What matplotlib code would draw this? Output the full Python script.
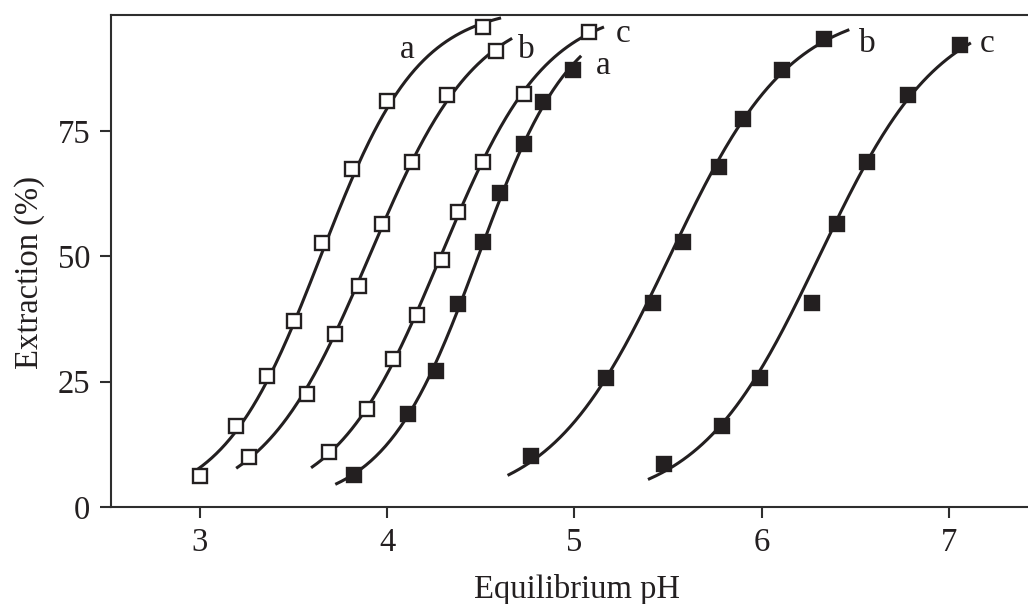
import numpy as np, matplotlib
matplotlib.use('Agg'); import matplotlib.pyplot as plt

plt.rcParams['font.family'] = ['Liberation Serif', 'DejaVu Serif']
INK = '#231f20'

# open squares (a, b, c)
ph_oa = [3.00, 3.19, 3.36, 3.50, 3.65, 3.81, 4.00, 4.51]
ex_oa = [6.2, 16.2, 26.1, 37.1, 52.7, 67.4, 81.0, 95.8]
ph_ob = [3.26, 3.57, 3.72, 3.85, 3.97, 4.13, 4.32, 4.58]
ex_ob = [10.0, 22.5, 34.5, 44.1, 56.4, 68.8, 82.2, 91.0]
ph_oc = [3.69, 3.89, 4.03, 4.16, 4.29, 4.38, 4.51, 4.73, 5.08]
ex_oc = [11.0, 19.5, 29.5, 38.3, 49.3, 58.8, 68.8, 82.4, 94.7]
# filled squares (a, b, c)
ph_fa = [3.82, 4.11, 4.26, 4.38, 4.51, 4.60, 4.73, 4.83, 4.99]
ex_fa = [6.4, 18.6, 27.1, 40.5, 52.8, 62.6, 72.4, 80.8, 87.2]
ph_fb = [4.77, 5.17, 5.42, 5.58, 5.77, 5.90, 6.11, 6.33]
ex_fb = [10.2, 25.7, 40.7, 52.9, 67.8, 77.4, 87.2, 93.4]
ph_fc = [5.48, 5.79, 5.99, 6.27, 6.40, 6.56, 6.78, 7.06]
ex_fc = [8.6, 16.2, 25.7, 40.7, 56.5, 68.8, 82.2, 92.2]

# extent of each fitted curve (pH)
curve_lo = [2.99, 3.20, 3.60, 3.73, 4.65, 5.40]
curve_hi = [4.60, 4.66, 5.15, 5.03, 6.46, 7.11]
labels = ['a', 'b', 'c', 'a', 'b', 'c']
lab_x = [4.105, 4.741, 5.259, 5.152, 6.562, 7.203]
lab_y = [91.2, 91.2, 94.3, 88.0, 92.3, 92.3]

series = [(ph_oa, ex_oa, False), (ph_ob, ex_ob, False), (ph_oc, ex_oc, False),
          (ph_fa, ex_fa, True), (ph_fb, ex_fb, True), (ph_fc, ex_fc, True)]

fig = plt.figure(figsize=(10.28, 6.04), dpi=100)
ax = fig.add_axes([0.108, 0.1606, 0.892, 0.8144])

for i, (x, y, filled) in enumerate(series):
    x = np.array(x); y = np.array(y)
    k, b = np.polyfit(x, np.log(y / (100 - y)), 1)   # logistic fit
    xs = np.linspace(curve_lo[i], curve_hi[i], 200)
    ax.plot(xs, 100 / (1 + np.exp(-(k * xs + b))), color=INK, lw=2.2, zorder=2)
    ax.plot(x, y, 's', ms=10.2 if filled else 9.6, mfc=INK if filled else 'white',
            mec=INK, mew=1.7, zorder=3, clip_on=False)
    ax.text(lab_x[i], lab_y[i], labels[i], fontsize=24, color=INK, ha='center', va='center')

ax.set_xlim(2.525, 7.422); ax.set_ylim(0, 98.1)
ax.set_xticks([3, 4, 5, 6, 7]); ax.set_yticks([0, 25, 50, 75])
ax.spines['right'].set_visible(False)
for s in ['left', 'bottom', 'top']:
    ax.spines[s].set_linewidth(1.5); ax.spines[s].set_color('#2e2e2e')
ax.tick_params(direction='out', length=8, width=1.5, color='#2e2e2e', labelsize=23.5,
               labelcolor=INK, pad=7)
ax.set_xlabel('Equilibrium pH', fontsize=23.5, color=INK)
ax.set_ylabel('Extraction (%)', fontsize=23.5, color=INK)
ax.xaxis.set_label_coords(0.508, -0.136)
ax.yaxis.set_label_coords(-0.072, 0.476)
fig.savefig('out.png', dpi=100)
